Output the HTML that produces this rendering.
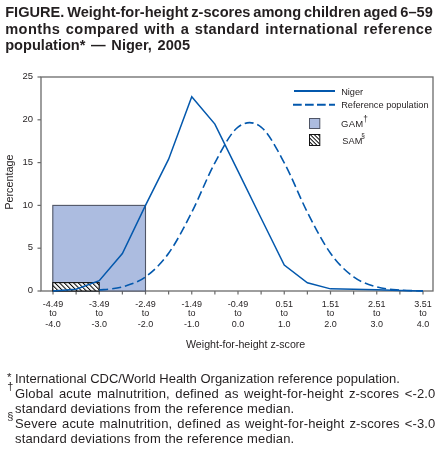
<!DOCTYPE html>
<html><head><meta charset="utf-8"><style>
html,body{margin:0;padding:0;background:#fff;width:440px;height:449px;overflow:hidden;}
body{position:relative;will-change:transform;font-family:"Liberation Sans",sans-serif;color:#231f20;}
#title{position:absolute;left:5.2px;top:4.3px;width:427.6px;font-weight:bold;font-size:14.6px;line-height:16.5px;text-align:justify;}
.j{text-align:justify;text-align-last:justify;white-space:nowrap;}
#notes{position:absolute;left:15px;top:370.5px;width:420.5px;text-align:justify;font-size:13px;line-height:15px;}
.sym{position:absolute;line-height:1;}
svg{position:absolute;left:0;top:0;}
svg text{font-family:"Liberation Sans",sans-serif;fill:#231f20;}
</style></head><body>
<div id="title"><div class="j" style="word-spacing:-1.5px">FIGURE. Weight-for-height z-scores among children aged 6–59</div><div class="j" style="letter-spacing:0.4px">months compared with a standard international reference</div><div style="word-spacing:1.6px">population* — Niger, 2005</div></div>
<svg width="440" height="449" viewBox="0 0 440 449">
<defs>
<pattern id="hatch" patternUnits="userSpaceOnUse" width="3.3" height="3.3" patternTransform="rotate(-45)">
<rect width="3.3" height="3.3" fill="#fff"/><rect x="0" y="0" width="1.0" height="3.3" fill="#000"/>
</pattern>
<pattern id="hatch2" patternUnits="userSpaceOnUse" width="2.8" height="2.8" patternTransform="translate(309,134) rotate(-45)">
<rect width="2.8" height="2.8" fill="#fff"/><rect x="0" y="0" width="0.95" height="2.8" fill="#000"/>
</pattern>
</defs>
<rect x="41" y="77" width="392" height="214" fill="none" stroke="#6a6a6a" stroke-width="1.3"/>
<g stroke="#6a6a6a" stroke-width="1.2"><line x1="37.5" y1="291.00" x2="41" y2="291.00"/><line x1="37.5" y1="248.20" x2="41" y2="248.20"/><line x1="37.5" y1="205.40" x2="41" y2="205.40"/><line x1="37.5" y1="162.60" x2="41" y2="162.60"/><line x1="37.5" y1="119.80" x2="41" y2="119.80"/><line x1="37.5" y1="77.00" x2="41" y2="77.00"/><line x1="53.00" y1="291" x2="53.00" y2="294.5"/><line x1="76.12" y1="291" x2="76.12" y2="294.5"/><line x1="99.25" y1="291" x2="99.25" y2="294.5"/><line x1="122.38" y1="291" x2="122.38" y2="294.5"/><line x1="145.50" y1="291" x2="145.50" y2="294.5"/><line x1="168.62" y1="291" x2="168.62" y2="294.5"/><line x1="191.75" y1="291" x2="191.75" y2="294.5"/><line x1="214.88" y1="291" x2="214.88" y2="294.5"/><line x1="238.00" y1="291" x2="238.00" y2="294.5"/><line x1="261.12" y1="291" x2="261.12" y2="294.5"/><line x1="284.25" y1="291" x2="284.25" y2="294.5"/><line x1="307.38" y1="291" x2="307.38" y2="294.5"/><line x1="330.50" y1="291" x2="330.50" y2="294.5"/><line x1="353.62" y1="291" x2="353.62" y2="294.5"/><line x1="376.75" y1="291" x2="376.75" y2="294.5"/><line x1="399.88" y1="291" x2="399.88" y2="294.5"/><line x1="423.00" y1="291" x2="423.00" y2="294.5"/></g>
<rect x="52.8" y="205.4" width="92.7" height="85.6" fill="#acbce0" stroke="#4f5566" stroke-width="1.1"/>
<rect x="52.8" y="282.6" width="46.4" height="8.4" fill="url(#hatch)" stroke="#111" stroke-width="1.1"/>
<polyline points="53.00,291.00 76.12,289.29 99.25,280.73 122.38,253.59 145.50,205.40 168.62,159.18 191.75,96.69 214.88,124.08 238.00,171.16 261.12,218.24 284.25,265.06 307.38,282.78 330.50,288.86 353.62,289.29 376.75,289.72 399.88,290.57 423.00,291.00" fill="none" stroke="#0358ad" stroke-width="1.5" stroke-linejoin="miter"/>
<path d="M99.25,290.06 C103.10,289.53 114.67,289.09 122.38,286.89 C130.08,284.69 137.79,282.48 145.50,276.88 C153.21,271.27 160.92,264.01 168.62,253.25 C176.33,242.49 184.04,227.41 191.75,212.33 C199.46,197.25 207.17,176.98 214.88,162.77 C222.58,148.56 230.29,133.03 238.00,127.08 C245.71,121.13 253.42,121.13 261.12,127.08 C268.83,133.03 276.54,148.56 284.25,162.77 C291.96,176.98 299.67,197.25 307.38,212.33 C315.08,227.41 322.79,242.49 330.50,253.25 C338.21,264.01 345.92,271.27 353.62,276.88 C361.33,282.48 369.04,284.69 376.75,286.89 C384.46,289.09 392.17,289.40 399.88,290.06 C407.58,290.71 419.15,290.70 423.00,290.83" fill="none" stroke="#0358ad" stroke-width="1.6" stroke-dasharray="9 4"/>
<g font-size="9.5" text-anchor="end"><text x="33" y="293.20">0</text><text x="33" y="250.40">5</text><text x="33" y="207.60">10</text><text x="33" y="164.80">15</text><text x="33" y="122.00">20</text><text x="33" y="79.20">25</text></g>
<g font-size="9" text-anchor="middle"><text x="53.00" y="307.2">-4.49</text><text x="53.00" y="315.5">to</text><text x="53.00" y="327.4">-4.0</text><text x="99.25" y="307.2">-3.49</text><text x="99.25" y="315.5">to</text><text x="99.25" y="327.4">-3.0</text><text x="145.50" y="307.2">-2.49</text><text x="145.50" y="315.5">to</text><text x="145.50" y="327.4">-2.0</text><text x="191.75" y="307.2">-1.49</text><text x="191.75" y="315.5">to</text><text x="191.75" y="327.4">-1.0</text><text x="238.00" y="307.2">-0.49</text><text x="238.00" y="315.5">to</text><text x="238.00" y="327.4">0.0</text><text x="284.25" y="307.2">0.51</text><text x="284.25" y="315.5">to</text><text x="284.25" y="327.4">1.0</text><text x="330.50" y="307.2">1.51</text><text x="330.50" y="315.5">to</text><text x="330.50" y="327.4">2.0</text><text x="376.75" y="307.2">2.51</text><text x="376.75" y="315.5">to</text><text x="376.75" y="327.4">3.0</text><text x="423.00" y="307.2">3.51</text><text x="423.00" y="315.5">to</text><text x="423.00" y="327.4">4.0</text></g>
<text x="186" y="348.3" font-size="10.65">Weight-for-height z-score</text>
<text transform="translate(13.3,182.1) rotate(-90)" font-size="10.85" text-anchor="middle">Percentage</text>
<line x1="294" y1="91" x2="335" y2="91" stroke="#0358ad" stroke-width="2"/>
<line x1="293" y1="104.8" x2="335" y2="104.8" stroke="#0358ad" stroke-width="2" stroke-dasharray="8.7 3.3"/>
<rect x="309.5" y="118.5" width="10.3" height="10" fill="#acbce0" stroke="#4f5566" stroke-width="1"/>
<rect x="309.5" y="134.5" width="10.3" height="11" fill="url(#hatch2)" stroke="#111" stroke-width="1"/>
<g font-size="9">
<text x="341.2" y="95" font-size="9.2">Niger</text>
<text x="341.2" y="108.2" font-size="9.2">Reference population</text>
<text x="341" y="127" font-size="9.5" letter-spacing="0.25">GAM</text><text x="363.2" y="121.5" font-size="8.3">†</text>
<text x="342.2" y="143.7" font-size="9.2" letter-spacing="0.1">SAM</text><text x="361.2" y="138.3" font-size="6.5">§</text>
</g>
</svg>
<div id="notes">
<div>International CDC/World Health Organization reference population.</div>
<div style="letter-spacing:0.15px">Global acute malnutrition, defined as weight-for-height z-scores &lt;-2.0 standard deviations from the reference median.</div>
<div style="letter-spacing:0.15px">Severe acute malnutrition, defined as weight-for-height z-scores &lt;-3.0 standard deviations from the reference median.</div>
</div>
<div class="sym" style="left:7px;top:371.5px;font-size:11.5px">*</div>
<div class="sym" style="left:7.3px;top:380.5px;font-size:11px">†</div>
<div class="sym" style="left:7.2px;top:410.6px;font-size:11px">§</div>
</body></html>
